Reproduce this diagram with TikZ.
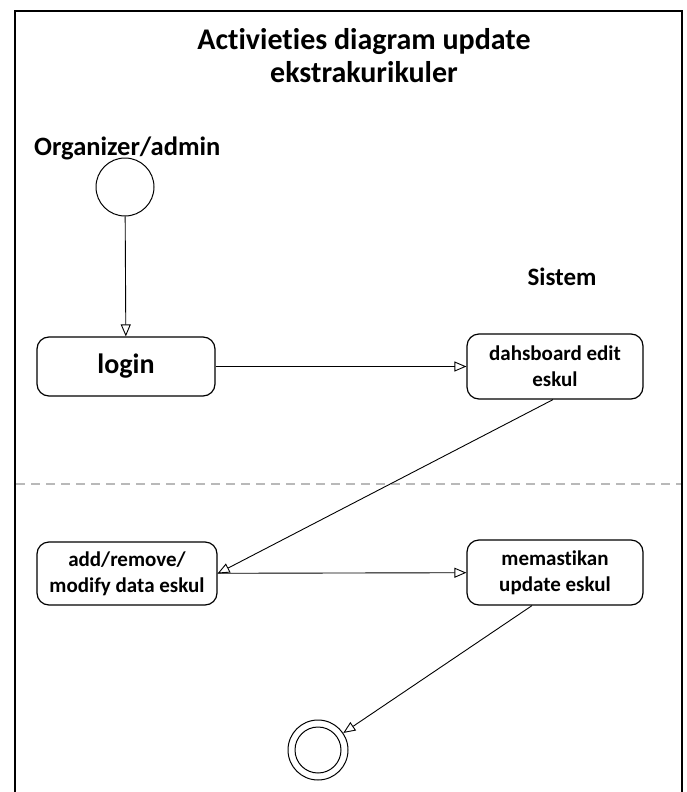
\documentclass[tikz,border=0pt]{standalone}
\usepackage{fontspec}
\setmainfont{Carlito}[Ligatures=CommonOff]
\usetikzlibrary{arrows.meta}
\begin{document}
\begin{tikzpicture}[x=1pt,y=-1pt,
  every node/.style={font=\bfseries},
  act/.style={draw, line width=1.2pt, rounded corners=12pt, align=center,
              inner sep=0pt, font=\bfseries\fontsize{21}{26}\selectfont},
  flow/.style={draw, line width=0.9pt,
               -{Triangle[open, length=12pt, width=10pt, line width=0.9pt]}},
  lbl/.style={font=\bfseries\fontsize{26.5}{33}\selectfont, inner sep=0pt}]
  \useasboundingbox (0,0) rectangle (686,792);
  % outer frame (open at the bottom)
  \draw[line width=2pt] (15,795) -- (15,11) -- (682,11) -- (682,795);
  % title and lane labels
  \node[lbl, align=center, font=\bfseries\fontsize{30}{33}\selectfont] (title) at (364,56) {Activieties diagram update\\ekstrakurikuler};
  \node[lbl, anchor=base west] (actor) at (34,155) {Organizer/admin};
  \node[lbl, anchor=base, font=\bfseries\fontsize{25}{30}\selectfont] (sys) at (562,285) {Sistem};
  % lane separator
  \draw[gray!55, dashed, dash pattern=on 9pt off 6pt, line width=1.2pt] (16,484) -- (681,484);
  % initial node
  \node[draw, circle, line width=1pt, minimum size=58pt, inner sep=0pt] (start) at (125,187) {};
  % activities
  \node[act, minimum width=178pt, minimum height=59pt, font=\bfseries\fontsize{28}{30}\selectfont] (login) at (126,366.5) {login};
  \node[act, minimum width=176pt, minimum height=65pt] (dash) at (555,366.5) {dahsboard edit\\eskul};
  \node[act, minimum width=180pt, minimum height=63pt] (modify) at (127,573.5) {add/remove/\\modify data eskul};
  \node[act, minimum width=176pt, minimum height=65pt] (check) at (555,572.5) {memastikan\\update eskul};
  % final node
  \node[draw, circle, line width=1pt, minimum size=60pt, inner sep=0pt] (final) at (318,750) {};
  \node[draw, circle, line width=1pt, minimum size=46pt, inner sep=0pt] (finalin) at (318,750) {};
  % control flow
  \draw[flow] (start) -- (login);
  \draw[flow] (login) -- (dash);
  \draw[flow] (dash.south) ++(-2,0) coordinate (d1) (d1) -- (modify.east);
  \draw[flow] (modify) -- (check);
  \draw[flow] (check.south) ++(-23,0) coordinate (c1) (c1) -- (final);
\end{tikzpicture}
\end{document}
